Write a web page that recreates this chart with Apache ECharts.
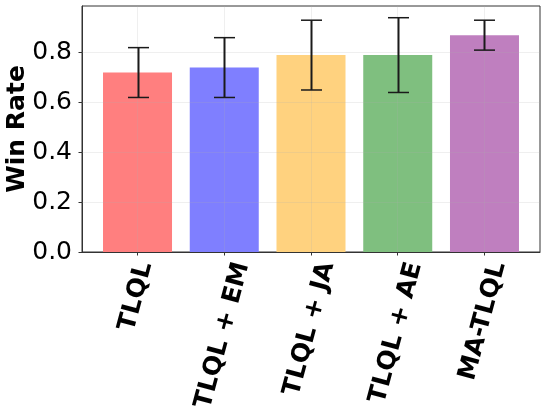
<!DOCTYPE html>
<html>
<head>
<meta charset="utf-8">
<script src="https://cdn.jsdelivr.net/npm/echarts@6/dist/echarts.min.js"></script>
<style>
html, body { margin: 0; padding: 0; background: #fff; }
#main { width: 547px; height: 417px; }
</style>
</head>
<body>
<div id="main"></div>
<script>
var chart = echarts.init(document.getElementById('main'));

// data
var categories = ['TLQL', 'TLQL + EM', 'TLQL + JA', 'TLQL + AE', 'MA-TLQL'];
var winRates = [0.72, 0.74, 0.79, 0.79, 0.87];
var winErrors = [0.10, 0.12, 0.14, 0.15, 0.06];
var barColors = ['#ff7f7f', '#7f7fff', '#ffd27f', '#7fbf7f', '#bf7fbf'];
var yTicks = [0, 0.2, 0.4, 0.6, 0.8];
var xTicks = [0, 1, 2, 3, 4];

var FONT = 'DejaVu Sans';
var labelFont = 'bold 25px "' + FONT + '"';
var measureCtx = document.createElement('canvas').getContext('2d');
measureCtx.font = labelFont;
var ROT = 75 * Math.PI / 180;

var barData = winRates.map(function (v, i) {
    return { value: [i, v], itemStyle: { color: barColors[i] } };
});
var errData = winRates.map(function (v, i) {
    return [i, v - winErrors[i], v + winErrors[i]];
});
var labelData = categories.map(function (c, i) { return [i, 0]; });

// faint grid, drawn over the bars like matplotlib's grid(alpha=..)
var gridLines = xTicks.map(function (t) { return { xAxis: t }; })
    .concat(yTicks.slice(1).map(function (t) { return { yAxis: t }; }));

var option = {
    backgroundColor: '#fff',
    animation: false,
    grid: {
        left: 82, right: 7, top: 6, bottom: 165,
        outerBoundsMode: 'none',
        containLabel: false,
        show: true, borderColor: '#333', borderWidth: 1
    },
    xAxis: {
        type: 'value',
        min: -0.64,
        max: 4.64,
        axisLine: { show: true, onZero: false, lineStyle: { color: '#333', width: 1 } },
        axisTick: { show: true, length: 3.5, customValues: xTicks, lineStyle: { color: '#333' } },
        axisLabel: { show: false, customValues: xTicks },
        splitLine: { show: false }
    },
    yAxis: {
        type: 'value',
        min: 0,
        max: 0.987,
        name: 'Win Rate',
        nameLocation: 'middle',
        nameGap: 52,
        nameMoveOverlap: false,
        nameTextStyle: { fontFamily: FONT, fontSize: 25, fontWeight: 'bold', color: '#000' },
        axisLine: { show: true, onZero: false, lineStyle: { color: '#333', width: 1 } },
        axisTick: { show: true, length: 3.5, customValues: yTicks, lineStyle: { color: '#333' } },
        axisLabel: {
            customValues: yTicks,
            margin: 10,
            fontFamily: FONT, fontSize: 25, color: '#000',
            formatter: function (v) { return v.toFixed(1); }
        },
        splitLine: { show: false }
    },
    series: [
        {
            type: 'bar',
            data: barData,
            barWidth: 69,
            markLine: {
                silent: true,
                symbol: 'none',
                label: { show: false },
                lineStyle: { color: 'rgba(176,176,176,0.2)', width: 1, type: 'solid' },
                data: gridLines
            }
        },
        {
            type: 'custom',
            data: errData,
            z: 6,
            renderItem: function (params, api) {
                var lo = api.coord([api.value(0), api.value(1)]);
                var hi = api.coord([api.value(0), api.value(2)]);
                var x = Math.round(lo[0]) + 0.5;
                var cap = 10.5;
                var stem = { stroke: '#1a1a1a', lineWidth: 2 };
                var st = { stroke: '#1a1a1a', lineWidth: 1.5 };
                return {
                    type: 'group',
                    children: [
                        { type: 'line', shape: { x1: x, y1: lo[1], x2: x, y2: hi[1] }, style: stem },
                        { type: 'line', shape: { x1: x - cap, y1: lo[1], x2: x + cap, y2: lo[1] }, style: st },
                        { type: 'line', shape: { x1: x - cap, y1: hi[1], x2: x + cap, y2: hi[1] }, style: st }
                    ]
                };
            }
        },
        {
            type: 'custom',
            data: labelData,
            clip: false,
            renderItem: function (params, api) {
                var i = api.value(0);
                var p = api.coord([i, api.value(1)]);
                var txt = categories[i];
                var L = measureCtx.measureText(txt).width;
                var h = 29;
                var bboxH = L * Math.sin(ROT) + h * Math.cos(ROT);
                var top = p[1] + 7;
                return {
                    type: 'text',
                    x: p[0] - 1.5,
                    y: top + bboxH / 2,
                    rotation: ROT,
                    style: {
                        text: txt,
                        font: labelFont,
                        fill: '#000',
                        align: 'center',
                        verticalAlign: 'middle'
                    }
                };
            }
        }
    ]
};

chart.setOption(option);
</script>
</body>
</html>
